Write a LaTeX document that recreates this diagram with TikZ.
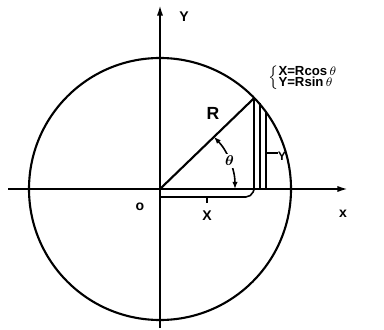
\documentclass[tikz,border=0pt]{standalone}
\usepackage{amsmath}
\usepackage{fontspec}
\setsansfont{Liberation Sans}
\usetikzlibrary{arrows.meta,calc}

\tikzset{
  axisline/.style={line width=1.1pt,-{Latex[length=6pt,width=3.5pt]}},
  trace/.style={line width=1.2pt},
  dimline/.style={line width=0.9pt},
  lbl/.style={font=\sffamily\bfseries\footnotesize,inner sep=1pt},
}

\begin{document}
\begin{tikzpicture}[x=0.02cm,y=-0.02cm]
  \useasboundingbox (0,0) rectangle (384,330);

  % origine et point sur le cercle
  \coordinate (O) at (160,189);
  \coordinate (P) at ($(O)+(-44:131)$);

  % axes
  \coordinate (xl) at (8,189);
  \coordinate (xr) at (348,189);
  \coordinate (yb) at (160,328);
  \coordinate (yt) at (160,5);
  \draw[axisline] (xl) -- (xr);
  \draw[axisline] (yb) -- (yt);
  \node[lbl] (ylab) at (184,17) {Y};
  \node[lbl] (xlab) at (343,214) {x};
  \node[lbl] (olab) at (140,207) {o};

  % cercle et rayon
  \draw[trace] (O) circle (131);
  \draw[trace] (O) -- (P);
  \node[lbl,font=\sffamily\bfseries\normalsize] (rlab) at (213,113) {R};

  % projections de P
  \coordinate (p1) at (P |- xl);
  \coordinate (q0) at ($(P)+(6,5)$);
  \coordinate (q1) at (q0 |- xl);
  \draw[trace] (P) -- (p1);
  \draw[trace] (q0) -- (q1);

  % cote X
  \coordinate (xa) at (160,197);
  \coordinate (xb) at ($(p1)+(-3,8)$);
  \draw[dimline,rounded corners=3pt] (xa) -- (xb) -- (p1);
  \coordinate (xt) at (207,197);
  \draw[dimline] (xt) -- ++(0,6);
  \node[lbl] (xdim) at (207,216) {X};

  % cote Y
  \coordinate (ya) at (266,113);
  \coordinate (yz) at (266,189);
  \draw[dimline] (ya) -- (yz);
  \coordinate (yt2) at (266,153);
  \draw[dimline] (yt2) -- ++(12,0);
  \node[lbl,font=\sffamily\bfseries\scriptsize] (ydim) at (282,156) {Y};

  % angle theta
  \draw[dimline,{Latex[length=4pt,width=3pt]}-{Latex[length=4pt,width=3pt]}]
    ($(O)+(0:75)$) arc[start angle=0,end angle=-44,radius=75];
  \node[lbl,fill=white] (th) at ($(O)+(-22:75)$) {$\boldsymbol\theta$};

  % relations
  \node[anchor=west,inner sep=0pt,font=\sffamily\bfseries\fontsize{7.5}{8}\selectfont] (rel) at (268,78)
    {$\left\{\begin{tabular}{@{}l@{}}X=Rcos\,$\theta$\\[-2pt]Y=Rsin\,$\theta$\end{tabular}\right.$};
\end{tikzpicture}
\end{document}
